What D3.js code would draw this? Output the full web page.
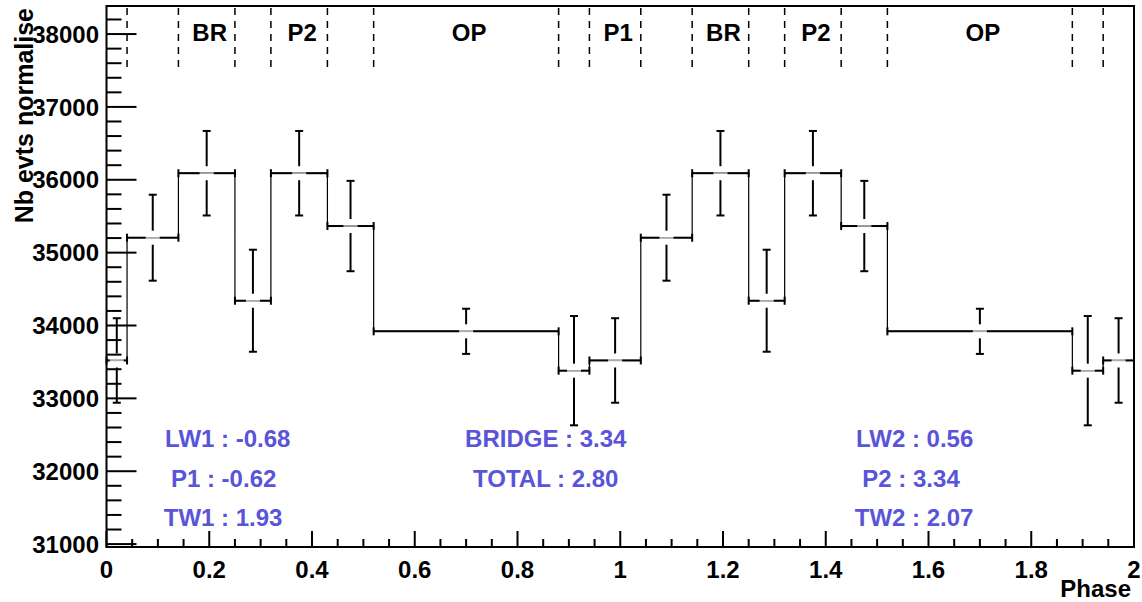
<!DOCTYPE html>
<html>
<head>
<meta charset="utf-8">
<script src="https://cdn.jsdelivr.net/npm/d3@7"></script>
<style>
  html, body { margin: 0; padding: 0; background: #fff; }
  svg { display: block; font-family: "Liberation Sans", Arial, Helvetica, sans-serif; font-weight: bold; }
</style>
</head>
<body>
<svg id="chart" width="1142" height="602"></svg>
<script>
// ---- data ----
const binEdges = [0, 0.04, 0.14, 0.25, 0.32, 0.43, 0.52, 0.88, 0.94, 1.04, 1.14, 1.25, 1.32, 1.43, 1.52, 1.88, 1.94, 2.0];
const binValues = [33520, 35205, 36090, 34340, 36090, 35365, 33920, 33380, 33520, 35205, 36090, 34340, 36090, 35365, 33920, 33380, 33520];
const binErrors = [580, 590, 580, 700, 580, 620, 310, 750, 580, 590, 580, 700, 580, 620, 310, 750, 580];
const regionNames = ["BR", "P2", "OP", "P1", "BR", "P2", "OP"];
const regionRanges = [[0.14, 0.25], [0.32, 0.43], [0.52, 0.88], [0.94, 1.04], [1.14, 1.25], [1.32, 1.43], [1.52, 1.88]];
const dashedEdges = [0.04, 0.14, 0.25, 0.32, 0.43, 0.52, 0.88, 0.94, 1.04, 1.14, 1.25, 1.32, 1.43, 1.52, 1.88, 1.94];
const statLabels = [
  ["LW1 : -0.68", "P1 : -0.62", "TW1 : 1.93"],
  ["BRIDGE : 3.34", "TOTAL : 2.80"],
  ["LW2 : 0.56", "P2 : 3.34", "TW2 : 2.07"]
];
const xTickLabels = ["0", "0.2", "0.4", "0.6", "0.8", "1", "1.2", "1.4", "1.6", "1.8", "2"];
const yTickLabels = ["31000", "32000", "33000", "34000", "35000", "36000", "37000", "38000"];
const xTitle = "Phase";
const yTitle = "Nb evts normalise";

// ---- layout ----
const L = 106.5, R = 1134, T = 6, B = 547;
const x = d3.scaleLinear().domain([0, 2]).range([L, R]);
const y = d3.scaleLinear().domain([30960, 38385]).range([B, T]);
const svg = d3.select("#chart");
const blue = "#5954d9";
const FS = 24;

// histogram step line
const pts = [];
binValues.forEach((v, i) => { pts.push([binEdges[i], v]); pts.push([binEdges[i + 1], v]); });
svg.append("path")
  .attr("d", d3.line().x(d => x(d[0])).y(d => y(d[1]))(pts))
  .attr("fill", "none").attr("stroke", "#000").attr("stroke-width", 1.2);

// error bars
const eb = svg.append("g").attr("stroke", "#000").attr("stroke-width", 2).attr("fill", "none");
const gap = 7, cap = 4;
binValues.forEach((v, i) => {
  const x0 = x(binEdges[i]), x1 = x(binEdges[i + 1]), xc = (x0 + x1) / 2, yc = y(v);
  const yt = y(v + binErrors[i]), yb = y(v - binErrors[i]);
  // horizontal
  eb.append("line").attr("x1", x0).attr("x2", xc - gap).attr("y1", yc).attr("y2", yc);
  eb.append("line").attr("x1", xc + gap).attr("x2", x1).attr("y1", yc).attr("y2", yc);
  eb.append("line").attr("x1", x0).attr("x2", x0).attr("y1", yc - cap).attr("y2", yc + cap);
  eb.append("line").attr("x1", x1).attr("x2", x1).attr("y1", yc - cap).attr("y2", yc + cap);
  // vertical
  eb.append("line").attr("x1", xc).attr("x2", xc).attr("y1", yt).attr("y2", yc - gap);
  eb.append("line").attr("x1", xc).attr("x2", xc).attr("y1", yc + gap).attr("y2", yb);
  eb.append("line").attr("x1", xc - cap).attr("x2", xc + cap).attr("y1", yt).attr("y2", yt);
  eb.append("line").attr("x1", xc - cap).attr("x2", xc + cap).attr("y1", yb).attr("y2", yb);
  // marker centre (light grey)
  svg.append("line").attr("x1", xc - gap).attr("x2", xc + gap).attr("y1", yc).attr("y2", yc)
    .attr("stroke", "#aaa").attr("stroke-width", 1.5);
});

// dashed region separators
svg.append("g").selectAll("line").data(dashedEdges).join("line")
  .attr("x1", d => x(d)).attr("x2", d => x(d))
  .attr("y1", y(38385) + 2).attr("y2", y(37530))
  .attr("stroke", "#000").attr("stroke-width", 1.5).attr("stroke-dasharray", "7,6");

// region names
svg.append("g").selectAll("text").data(regionNames).join("text")
  .attr("x", (d, i) => x((regionRanges[i][0] + regionRanges[i][1]) / 2) + 3)
  .attr("y", 40.5)
  .attr("text-anchor", "middle").attr("font-size", FS).attr("fill", "#000")
  .text(d => d);

// stat labels
const colX = [[0.236, 0.228, 0.227], [0.855, 0.855], [1.573, 1.566, 1.572]];
const rowV = [32337, 31788, 31248];
statLabels.forEach((col, ci) => {
  col.forEach((t, ri) => {
    svg.append("text").attr("x", x(colX[ci][ri])).attr("y", y(rowV[ri]))
      .attr("text-anchor", "middle").attr("font-size", FS).attr("fill", blue).text(t);
  });
});

// frame
svg.append("rect").attr("x", L).attr("y", T).attr("width", R - L).attr("height", B - T)
  .attr("fill", "none").attr("stroke", "#000").attr("stroke-width", 2);

// y ticks
const yMajor = yTickLabels.map(Number);
const yMinor = d3.range(31000, 38385, 200).filter(v => v % 1000 !== 0);
const ay = svg.append("g").attr("stroke", "#000").attr("stroke-width", 2);
yMajor.forEach(v => ay.append("line").attr("x1", L).attr("x2", L + 30).attr("y1", y(v)).attr("y2", y(v)));
yMinor.forEach(v => ay.append("line").attr("x1", L).attr("x2", L + 15).attr("y1", y(v)).attr("y2", y(v)));
svg.append("g").selectAll("text").data(yTickLabels).join("text")
  .attr("x", 99).attr("y", d => y(+d)).attr("dy", "0.36em")
  .attr("text-anchor", "end").attr("font-size", FS).text(d => d);

// x ticks
const xMajor = xTickLabels.map(Number);
const xMinor = d3.range(0.05, 2, 0.05).filter(v => Math.abs(v * 5 - Math.round(v * 5)) > 1e-6);
const ax = svg.append("g").attr("stroke", "#000").attr("stroke-width", 2);
xMajor.forEach(v => ax.append("line").attr("x1", x(v)).attr("x2", x(v)).attr("y1", B).attr("y2", B - 16));
xMinor.forEach(v => ax.append("line").attr("x1", x(v)).attr("x2", x(v)).attr("y1", B).attr("y2", B - 8));
svg.append("g").selectAll("text").data(xTickLabels).join("text")
  .attr("x", d => x(+d)).attr("y", 578)
  .attr("text-anchor", "middle").attr("font-size", FS).text(d => d);

// titles
svg.append("text").attr("x", 1131).attr("y", 597).attr("text-anchor", "end")
  .attr("font-size", FS).text(xTitle);
svg.append("text").attr("transform", "translate(33,8) rotate(-90)")
  .attr("text-anchor", "end").attr("font-size", 25).text(yTitle);
</script>
</body>
</html>
